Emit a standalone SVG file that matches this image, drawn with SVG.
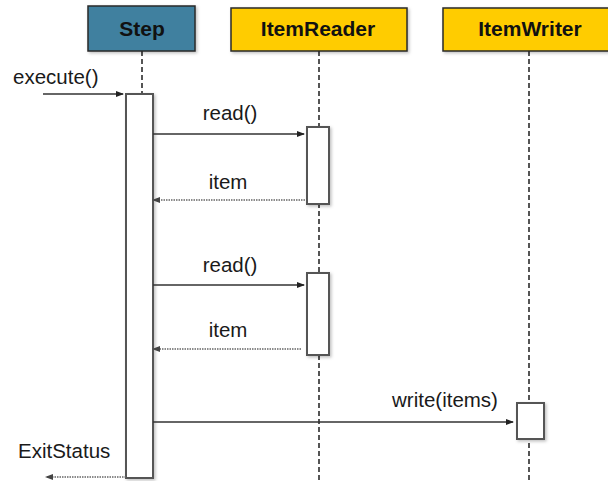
<svg xmlns="http://www.w3.org/2000/svg" width="608" height="481" viewBox="0 0 608 481">
<style>
.hdr{stroke:#2a2a2a;stroke-width:1.5}
.hdrtxt{font-family:"Liberation Sans",Arial,sans-serif;font-weight:bold;font-size:21px;fill:#111;text-anchor:middle}
.life{stroke:#555;stroke-width:2;stroke-dasharray:5,3;fill:none}
.act{fill:#fff;stroke:#555;stroke-width:2}
.msg{stroke:#333;stroke-width:1.5;fill:none}
.ret{stroke:#666;stroke-width:1.5;stroke-dasharray:1.5,1;fill:none}
.lbl{font-family:"Liberation Sans",Arial,sans-serif;font-size:20.5px;fill:#1a1a1a}
</style>
<defs>
<marker id="ah" markerWidth="8" markerHeight="8" refX="7" refY="4" orient="auto" markerUnits="userSpaceOnUse"><path d="M0,1 L8,4 L0,7 Z" fill="#222"/></marker>
<marker id="rh" markerWidth="8" markerHeight="8" refX="7" refY="4" orient="auto" markerUnits="userSpaceOnUse"><path d="M0,1 L8,4 L0,7 Z" fill="#444"/></marker>
<filter id="sh" x="-20%" y="-20%" width="150%" height="150%"><feDropShadow dx="1.5" dy="1.5" stdDeviation="1.5" flood-color="#000" flood-opacity="0.25"/></filter>
</defs>
<g id="lifelines">
<line class="life" x1="142" y1="51" x2="142" y2="94"/>
<line class="life" x1="319" y1="51" x2="319" y2="481"/>
<line class="life" x1="529" y1="51" x2="529" y2="481"/>
</g>
<g id="Step">
<rect class="hdr" x="88" y="6" width="107" height="45" fill="#40809f" filter="url(#sh)"/>
<text class="hdrtxt" x="142" y="36">Step</text>
<rect class="act" x="126" y="94" width="27" height="384" filter="url(#sh)"/>
</g>
<g id="ItemReader">
<rect class="hdr" x="231" y="8" width="176" height="43" fill="#ffcc00" filter="url(#sh)"/>
<text class="hdrtxt" x="318" y="36">ItemReader</text>
<rect class="act" x="307" y="127" width="22" height="77" filter="url(#sh)"/>
<rect class="act" x="307" y="273" width="22" height="82" filter="url(#sh)"/>
</g>
<g id="ItemWriter">
<rect class="hdr" x="443" y="8" width="170" height="43" fill="#ffcc00" filter="url(#sh)"/>
<text class="hdrtxt" x="530" y="36">ItemWriter</text>
<rect class="act" x="517" y="403" width="27" height="36" filter="url(#sh)"/>
</g>
<g id="connectors">
<line class="msg" x1="43" y1="94" x2="123" y2="94" marker-end="url(#ah)"/>
<line class="msg" x1="153" y1="134" x2="304" y2="134" marker-end="url(#ah)"/>
<line class="ret" x1="305" y1="200" x2="153" y2="200" marker-end="url(#rh)"/>
<line class="msg" x1="153" y1="285" x2="304" y2="285" marker-end="url(#ah)"/>
<line class="ret" x1="301" y1="349" x2="153" y2="349" marker-end="url(#rh)"/>
<line class="msg" x1="153" y1="422" x2="513" y2="422" marker-end="url(#ah)"/>
<line class="ret" x1="126" y1="477" x2="46" y2="477" marker-end="url(#rh)"/>
</g>
<g id="labels">
<text class="lbl" x="13" y="84">execute()</text>
<text class="lbl" x="230" y="120" text-anchor="middle">read()</text>
<text class="lbl" x="228" y="189" text-anchor="middle">item</text>
<text class="lbl" x="230" y="272" text-anchor="middle">read()</text>
<text class="lbl" x="228" y="337" text-anchor="middle">item</text>
<text class="lbl" x="445" y="407" text-anchor="middle">write(items)</text>
<text class="lbl" x="18" y="458">ExitStatus</text>
</g>
</svg>
